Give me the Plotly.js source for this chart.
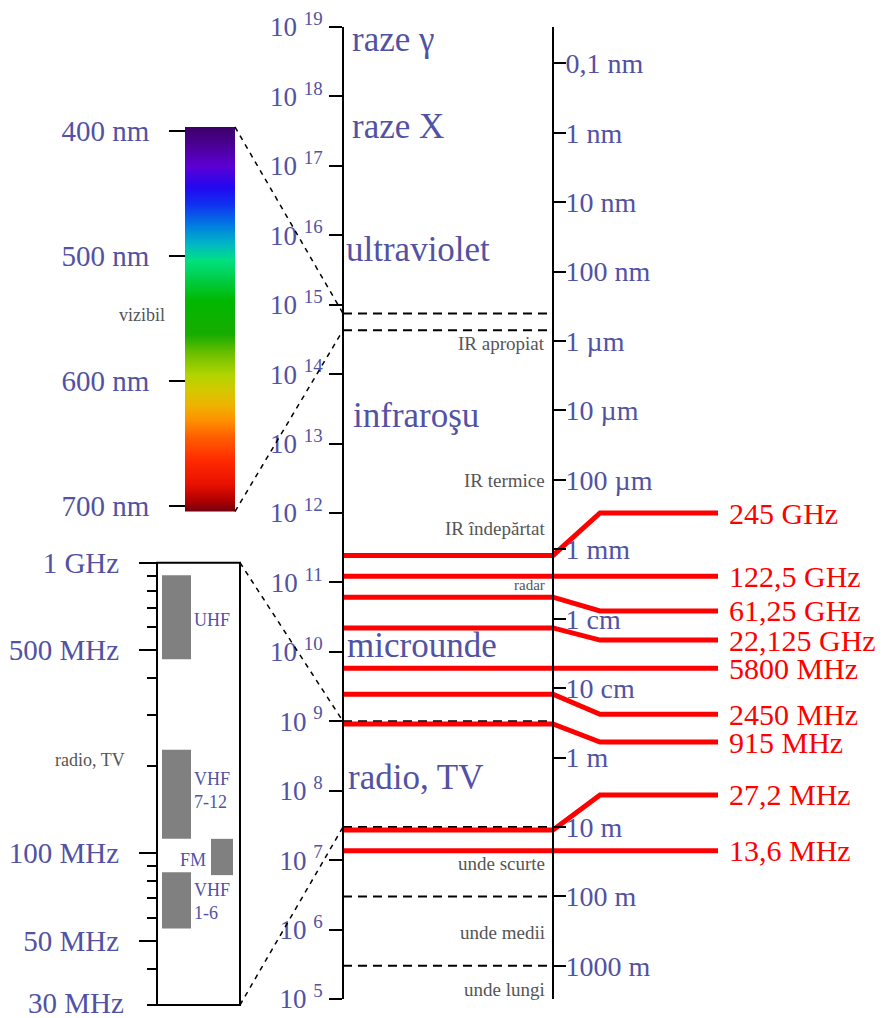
<!DOCTYPE html>
<html><head><meta charset="utf-8">
<script src="https://cdn.plot.ly/plotly-3.0.1.min.js"></script>
<style>html,body{margin:0;padding:0;background:#fff;}#chart{width:885px;height:1018px;}</style>
</head><body><div id="chart"></div>
<script>
// ---------------- data ----------------
const C_LIGHT = 3e8; // m/s
const freqTickExp = [5, 6, 7, 8, 9, 10, 11, 12, 13, 14, 15, 16, 17, 18, 19];
const wavelengthTicksM = [1e-10, 1e-9, 1e-8, 1e-7, 1e-6, 1e-5, 1e-4, 1e-3, 1e-2, 1e-1, 1, 10, 100, 1000];
const wavelengthTickText = ['0,1 nm', '1 nm', '10 nm', '100 nm', '1 µm', '10 µm', '100 µm', '1 mm', '1 cm', '10 cm', '1 m', '10 m', '100 m', '1000 m'];
const bandNames = ['raze γ', 'raze X', 'ultraviolet', 'infraroşu', 'microunde', 'radio, TV'];
const subBandNames = ['IR apropiat', 'IR termice', 'IR îndepărtat', 'radar', 'unde scurte', 'unde medii', 'unde lungi'];
const ismFreqHz = [245e9, 122.5e9, 61.25e9, 22.125e9, 5800e6, 2450e6, 915e6, 27.2e6, 13.6e6];
const ismLabels = ['245 GHz', '122,5 GHz', '61,25 GHz', '22,125 GHz', '5800 MHz', '2450 MHz', '915 MHz', '27,2 MHz', '13,6 MHz'];
const visibleNm = [400, 700];
const specTickNm = [400, 500, 600, 700];
const specStopNm = [397, 410, 428, 445, 458, 476, 490, 503, 516, 535, 562, 578, 594, 607, 620, 631, 644, 663, 682, 695, 704];
const specStopColor = ['#3c0068', '#4a0094', '#5c00d4', '#2208f0', '#1030f0', '#0080e0', '#00b8c4', '#00e080', '#00d050', '#00b800', '#18ac00', '#70c000', '#b0d400', '#d4c800', '#f0b000', '#ff9000', '#ff6000', '#ff2a00', '#e81000', '#b00000', '#740010'];
const tvBands = ['UHF', 'VHF<br>7-12', 'FM', 'VHF<br>1-6'];
const tvLowMHz = [465, 112, 84, 55];
const tvHighMHz = [905, 227, 112, 86];
const zoomTickMHz = [1000, 500, 100, 50];
const zoomTickText = ['1 GHz', '500 MHz', '100 MHz', '50 MHz'];
const zoomMinorMHz = [900, 800, 700, 600, 400, 300, 200, 90, 80, 70, 60, 40, 30];
const zoomRangeMHz = [30, 1000];
const radioBoundaryM = [100, 1000];

// ---------------- layout constants ----------------
const W = 885, H = 1018;
const SERIF = "'Liberation Serif', 'Times New Roman', serif";
const BLUE = '#5252a4', GREY = '#555555', RED = '#ff0000';
const py = p => 1 - p / H;                  // pixel row -> paper
const MAIN = {top: 27, bottom: 999, left: 343, right: 553, exp: [5, 19]};
const SPEC = {top: 127, bottom: 511.5, left: 185, right: 235, nm: [704.4, 396.8]};
const ZOOM = {top: 562.7, bottom: 1005, left: 157, right: 240};
const BEND_X = 600, END_X = 718, LABEL_X = 727;
// display level (log10 Hz) of each ISM label (null = same as frequency)
const ismLabelLevel = [12.0, null, 10.59, 10.17, null, 9.10, 8.70, 7.94, null];

const mainDom = [py(MAIN.bottom), py(MAIN.top)];
const mainPaper = f => mainDom[0] + (Math.log10(f) - MAIN.exp[0]) / (MAIN.exp[1] - MAIN.exp[0]) * (mainDom[1] - mainDom[0]);

const traces = [];

// visible spectrum gradient
const nmMin = Math.min(...specStopNm), nmMax = Math.max(...specStopNm);
traces.push({
  type: 'heatmap', xaxis: 'x', yaxis: 'y3',
  x: [SPEC.left + (SPEC.right - SPEC.left) / 4, SPEC.left + 3 * (SPEC.right - SPEC.left) / 4],
  y: specStopNm, z: specStopNm.map(w => [w, w]),
  zmin: nmMin, zmax: nmMax, zsmooth: 'best', showscale: false, hoverinfo: 'skip',
  colorscale: specStopNm.map((w, i) => [(w - nmMin) / (nmMax - nmMin), specStopColor[i]])
});

// TV bands in zoom box
const tvCols = [[162, 191], [162, 191], [211, 233], [162, 191]];
tvBands.forEach((b, i) => {
  const [a, c] = tvCols[i];
  traces.push({
    type: 'scatter', mode: 'lines', xaxis: 'x', yaxis: 'y4', hoverinfo: 'skip',
    x: [a, c, c, a, a], y: [tvLowMHz[i], tvLowMHz[i], tvHighMHz[i], tvHighMHz[i], tvLowMHz[i]],
    fill: 'toself', fillcolor: '#808080', line: {width: 0, color: '#808080'}
  });
});

// dashed boundary lines in main band
const dashFreqs = [C_LIGHT / (visibleNm[0] * 1e-9), C_LIGHT / (visibleNm[1] * 1e-9), zoomRangeMHz[1] * 1e6, zoomRangeMHz[0] * 1e6];
dashFreqs.forEach(f => traces.push({
  type: 'scatter', mode: 'lines', xaxis: 'x', yaxis: 'y', hoverinfo: 'skip',
  x: [MAIN.left, MAIN.right], y: [f, f], line: {color: '#000', width: 2, dash: '9px,6px'}
}));
radioBoundaryM.forEach(m => traces.push({
  type: 'scatter', mode: 'lines', xaxis: 'x', yaxis: 'y2', hoverinfo: 'skip',
  x: [MAIN.left, MAIN.right], y: [C_LIGHT / m, C_LIGHT / m], line: {color: '#000', width: 2, dash: '9px,6px'}
}));

// ISM red lines
ismFreqHz.forEach((f, i) => {
  const lv = ismLabelLevel[i] === null ? f : Math.pow(10, ismLabelLevel[i]);
  traces.push({
    type: 'scatter', mode: 'lines', xaxis: 'x', yaxis: 'y', hoverinfo: 'skip',
    x: [MAIN.left, MAIN.right, BEND_X, END_X], y: [f, f, lv, lv],
    line: {color: RED, width: 5}
  });
});

// ---------------- annotations ----------------
const ann = [];
const txt = (text, x, ypix, size, color, anchor) => ann.push({
  text, x, y: py(ypix), xref: 'x', yref: 'paper', xanchor: anchor || 'left', yanchor: 'middle',
  showarrow: false, font: {family: SERIF, size, color}
});
const bandY = [40, 126, 249, 415, 645, 777];
const bandX = [350, 350, 344, 351, 345, 346];
bandNames.forEach((t, i) => txt(t, bandX[i], bandY[i], 35, BLUE));
const subY = [343, 480, 528, 585, 863, 932, 989];
const subSize = [19, 19, 19, 15, 19, 19, 19];
subBandNames.forEach((t, i) => txt(t, 547, subY[i], subSize[i], GREY, 'right'));
txt('vizibil', 167, 315, 18, GREY, 'right');
txt('radio, TV', 127, 760, 18, GREY, 'right');
const tvLabX = [192, 192, 208, 192], tvLabY = [620, 790, 860, 901], tvLabA = ['left', 'left', 'right', 'left'];
tvBands.forEach((t, i) => ann.push({
  text: t, x: tvLabX[i], y: py(tvLabY[i]), xref: 'x', yref: 'paper', xanchor: tvLabA[i], yanchor: 'middle',
  align: 'left', showarrow: false, font: {family: SERIF, size: 18, color: BLUE}
}));
ismLabels.forEach((t, i) => ann.push({
  text: t, x: LABEL_X, xref: 'x', yref: 'y', xanchor: 'left', yanchor: 'middle',
  y: ismLabelLevel[i] === null ? Math.log10(ismFreqHz[i]) : ismLabelLevel[i],
  showarrow: false, font: {family: SERIF, size: 30, color: RED}
}));
ann.push({text: zoomRangeMHz[0] + ' MHz', x: 126, xref: 'x', y: Math.log10(zoomRangeMHz[0]), yref: 'y4',
  xanchor: 'right', yanchor: 'middle', yshift: 2, showarrow: false, font: {family: SERIF, size: 29, color: BLUE}});

// ---------------- shapes ----------------
const conn = {color: '#000', width: 1.5, dash: '5px,5px'};
const shapes = [
  {type: 'line', xref: 'x', yref: 'paper', x0: SPEC.right, y0: py(SPEC.top), x1: MAIN.left, y1: mainPaper(dashFreqs[0]), line: conn},
  {type: 'line', xref: 'x', yref: 'paper', x0: SPEC.right, y0: py(SPEC.bottom), x1: MAIN.left, y1: mainPaper(dashFreqs[1]), line: conn},
  {type: 'line', xref: 'x', yref: 'paper', x0: ZOOM.right, y0: py(ZOOM.top), x1: MAIN.left, y1: mainPaper(dashFreqs[2]), line: conn},
  {type: 'line', xref: 'x', yref: 'paper', x0: ZOOM.right, y0: py(ZOOM.bottom), x1: MAIN.left, y1: mainPaper(dashFreqs[3]), line: conn},
  {type: 'rect', xref: 'x', yref: 'paper', x0: ZOOM.left, x1: ZOOM.right, y0: py(ZOOM.bottom), y1: py(ZOOM.top), line: {color: '#000', width: 2}}
];

const axBase = {showgrid: false, zeroline: false, fixedrange: true, tickcolor: '#000', tickwidth: 2, ticks: 'outside', linecolor: '#000', linewidth: 2};
const layout = {
  width: W, height: H, margin: {l: 0, r: 0, t: 0, b: 0, pad: 0},
  paper_bgcolor: '#fff', plot_bgcolor: 'rgba(0,0,0,0)', showlegend: false,
  xaxis: {range: [0, W], domain: [0, 1], visible: false, fixedrange: true},
  yaxis: Object.assign({}, axBase, {
    type: 'log', range: MAIN.exp, domain: mainDom, anchor: 'free', position: MAIN.left / W, side: 'left',
    showline: true, ticklen: 13, ticklabelstandoff: 1,
    tickvals: freqTickExp.map(e => Math.pow(10, e)), ticktext: freqTickExp.map(e => '10 <sup>' + e + '</sup>'),
    tickfont: {family: SERIF, size: 27, color: BLUE}
  }),
  yaxis2: Object.assign({}, axBase, {
    type: 'log', range: MAIN.exp, overlaying: 'y', anchor: 'free', position: MAIN.right / W, side: 'right',
    showline: true, ticklen: 12, ticklabelstandoff: -6,
    tickvals: wavelengthTicksM.map(m => C_LIGHT / m), ticktext: wavelengthTickText,
    tickfont: {family: SERIF, size: 28, color: BLUE}
  }),
  yaxis3: Object.assign({}, axBase, {
    range: SPEC.nm, domain: [py(SPEC.bottom), py(SPEC.top)], anchor: 'free', position: SPEC.left / W, side: 'left',
    showline: false, ticklen: 16, ticklabelstandoff: 14,
    tickvals: specTickNm, ticktext: specTickNm.map(v => v + ' nm'),
    tickfont: {family: SERIF, size: 29, color: BLUE}
  }),
  yaxis4: Object.assign({}, axBase, {
    type: 'log', range: [Math.log10(zoomRangeMHz[0]), Math.log10(zoomRangeMHz[1])], domain: [py(ZOOM.bottom), py(ZOOM.top)],
    anchor: 'free', position: ZOOM.left / W, side: 'left',
    showline: true, ticklen: 17, ticklabelstandoff: 14,
    tickvals: zoomTickMHz, ticktext: zoomTickText,
    minor: {tickvals: zoomMinorMHz, ticklen: 9, tickwidth: 2, tickcolor: '#000', ticks: 'outside', showgrid: false},
    tickfont: {family: SERIF, size: 29, color: BLUE}
  }),
  annotations: ann, shapes: shapes
};
Plotly.newPlot('chart', traces, layout, {staticPlot: true, displayModeBar: false});
</script></body></html>
